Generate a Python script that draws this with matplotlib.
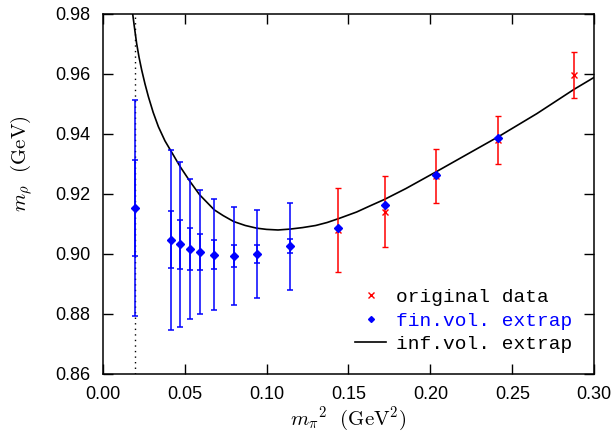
import numpy as np
import matplotlib.pyplot as plt
from matplotlib.lines import Line2D

plt.rcParams['mathtext.fontset'] = 'cm'

# fin.vol. extrapolated points (blue)
x_fin = [0.0195, 0.0417, 0.0474, 0.0535, 0.0592, 0.0681, 0.080, 0.094, 0.1144,
         0.1438, 0.1722, 0.2035, 0.2415]
y_fin = [0.9152, 0.9048, 0.9032, 0.9017, 0.9007, 0.8998, 0.8994, 0.9000, 0.9026,
         0.9086, 0.9163, 0.9263, 0.9388]
# errors for the first nine blue points: inner (stat) and outer (total)
err_stat = [0.016, 0.0095, 0.0081, 0.0070, 0.0060, 0.0049, 0.0037, 0.0029, 0.0024]
err_tot = [0.036, 0.030, 0.0275, 0.0234, 0.0207, 0.0185, 0.0163, 0.0148, 0.0145]

# original data (red)
x_orig = [0.1438, 0.1722, 0.2035, 0.2415, 0.2877]
y_orig = [0.9080, 0.9141, 0.9260, 0.9380, 0.9596]
err_orig = [0.0141, 0.0118, 0.0091, 0.0081, 0.0076]

# inf.vol. extrapolation curve
x_inf = [0.0183, 0.0195, 0.0207, 0.0222, 0.0238, 0.0258, 0.0279, 0.0308, 0.0340,
         0.0380, 0.0420, 0.0474, 0.0535, 0.0592, 0.0681, 0.0735, 0.080, 0.087,
         0.094, 0.100, 0.107, 0.1144, 0.122, 0.130, 0.137, 0.144, 0.155, 0.163,
         0.172, 0.185, 0.2035, 0.222, 0.2415, 0.265, 0.2877, 0.300]
y_inf = [0.980, 0.9750, 0.9702, 0.9655, 0.9613, 0.9567, 0.9524, 0.9472, 0.9424,
         0.9377, 0.9340, 0.9290, 0.9240, 0.9197, 0.9147, 0.9128, 0.9108, 0.9095,
         0.9086, 0.9082, 0.9080, 0.9083, 0.9088, 0.9095, 0.9105, 0.9118, 0.9140,
         0.9160, 0.9182, 0.9218, 0.9274, 0.9331, 0.9391, 0.9468, 0.9549, 0.9589]

m_pi_phys2 = 0.0195

fig = plt.figure(figsize=(6.15, 4.33), dpi=100)
ax = fig.add_axes([0.167, 0.1363, 0.7993, 0.8314])

# dotted line at physical pion mass
ax.axvline(m_pi_phys2, color='black', linestyle=(0, (1, 3)), lw=1.0)

# curve
ax.plot(x_inf, y_inf, color='black', lw=1.2)

# red original data
ax.errorbar(x_orig, y_orig, yerr=err_orig, fmt='x', color='red', ms=5, mew=1.0,
            elinewidth=1.1, capsize=2.3, capthick=1.1)

# blue error bars (outer and inner)
n = len(err_tot)
ax.errorbar(x_fin[:n], y_fin[:n], yerr=err_tot, fmt='none', ecolor='blue',
            elinewidth=1.1, capsize=2.3, capthick=1.1)
ax.errorbar(x_fin[:n], y_fin[:n], yerr=err_stat, fmt='none', ecolor='blue',
            elinewidth=1.1, capsize=2.3, capthick=1.1)
ax.plot(x_fin, y_fin, 'D', color='blue', ms=3.6, zorder=5)

ax.set_xlim(0, 0.30)
ax.set_ylim(0.86, 0.98)
ax.set_xticks(np.arange(0, 0.301, 0.05))
ax.set_yticks(np.arange(0.86, 0.981, 0.02))
ax.set_xticklabels(['%.2f' % v for v in np.arange(0, 0.301, 0.05)])
ax.set_yticklabels(['%.2f' % v for v in np.arange(0.86, 0.981, 0.02)])
ax.tick_params(direction='in', length=7, width=1, top=True, right=True,
               labelsize=13, pad=9)
for lab in ax.get_xticklabels() + ax.get_yticklabels():
    lab.set_family('Liberation Sans')
for s in ax.spines.values():
    s.set_linewidth(1.1)

ax.set_xlabel(r'$m_{\pi}{}^{2}\ \ \mathrm{(GeV^2)}$', fontsize=15, labelpad=1)
ax.set_ylabel(r'$m_{\rho}\ \ \mathrm{(GeV)}$', fontsize=15)
ax.yaxis.set_label_coords(-0.137, 0.583)

handles = [
    Line2D([], [], marker='x', color='red', ls='none', ms=4, mew=1.0),
    Line2D([], [], marker='D', color='blue', ls='none', ms=3),
    Line2D([], [], color='black', lw=1.2),
]
labels = ['original data', 'fin.vol. extrap', 'inf.vol. extrap']
ax.legend(handles, labels, loc='lower right', frameon=False,
          prop={'family': 'Liberation Mono', 'size': 14},
          labelcolor=['black', 'blue', 'black'], handlelength=1.6,
          handletextpad=0.5, labelspacing=0.3, borderaxespad=0.0,
          borderpad=0.0, bbox_to_anchor=(0.955, 0.058))

fig.savefig('out.png', dpi=100)
